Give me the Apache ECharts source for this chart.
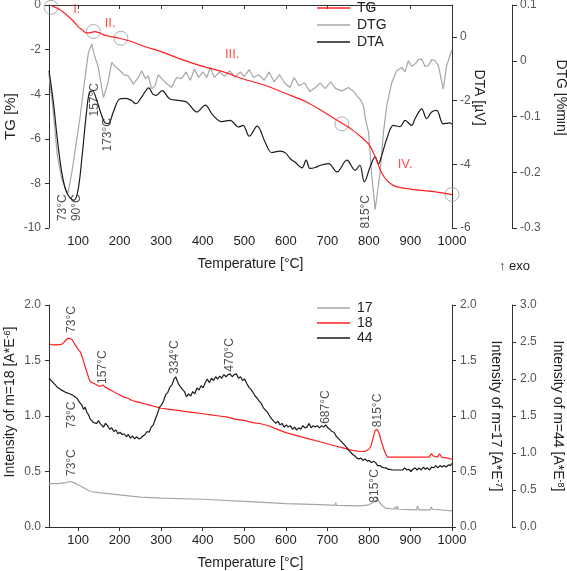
<!DOCTYPE html>
<html><head><meta charset="utf-8">
<script src="https://cdn.jsdelivr.net/npm/echarts@6/dist/echarts.min.js"></script>
<style>html,body{margin:0;padding:0;background:#fff}#c{width:567px;height:571px}</style>
</head><body><div id="c"></div>
<script>
const tempTicks = [100,200,300,400,500,600,700,800,900,1000];

const tgData = [[35,-0.02],[50,-0.15],[70,-0.4],[90,-0.75],[100,-0.97],[110,-1.12],[120,-1.25],[130,-1.24],[140,-1.19],[150,-1.24],[160,-1.33],[180,-1.42],[200,-1.49],[230,-1.65],[260,-1.86],[300,-2.09],[350,-2.45],[400,-2.75],[450,-3.0],[500,-3.33],[550,-3.6],[600,-3.97],[650,-4.35],[700,-4.9],[735,-5.3],[760,-5.6],[780,-5.9],[800,-6.25],[815,-6.8],[830,-7.5],[845,-7.9],[860,-8.1],[880,-8.2],[920,-8.3],[960,-8.38],[1000,-8.5]];

const dtaData = [[30,-1.06],[40,-2.0],[50,-3.2],[60,-4.2],[70,-4.8],[80,-5.05],[90,-5.13],[100,-4.8],[110,-3.7],[120,-2.4],[128,-1.72],[135,-1.7],[145,-2.0],[155,-2.4],[165,-2.7],[173,-2.72],[185,-2.35],[200,-1.95],[215,-1.93],[229,-2.0],[239,-2.1],[255,-1.85],[270,-1.6],[280,-1.8],[288,-1.84],[302,-1.69],[321,-1.95],[345,-2.0],[362,-2.05],[386,-2.36],[406,-2.14],[424,-2.45],[446,-2.66],[466,-2.62],[486,-2.83],[497,-2.78],[512,-3.12],[531,-2.8],[550,-3.3],[566,-3.63],[586,-3.59],[600,-3.65],[610,-3.82],[622,-3.93],[639,-4.11],[649,-3.87],[658,-4.13],[671,-4.1],[683,-4.03],[703,-3.98],[723,-4.24],[747,-3.87],[767,-4.19],[778,-4.03],[789,-4.55],[803,-4.08],[815,-3.77],[823,-3.98],[831,-3.72],[843,-3.2],[859,-2.78],[875,-2.82],[887,-2.62],[903,-2.78],[911,-2.57],[927,-2.26],[939,-2.57],[951,-2.36],[963,-2.31],[979,-2.73],[995,-2.7],[1000,-2.75]];

const dtgData = [[30,-0.024],[40,-0.09],[50,-0.17],[60,-0.21],[70,-0.23],[76,-0.237],[85,-0.2],[95,-0.15],[105,-0.1],[115,-0.04],[125,0.015],[133,0.03],[140,0.008],[148,-0.01],[155,-0.04],[161,-0.066],[171,-0.042],[181,-0.003],[189,-0.01],[201,-0.018],[210,-0.025],[221,-0.027],[233,-0.042],[245,-0.03],[253,-0.018],[262,-0.032],[269,-0.027],[277,-0.05],[285,-0.045],[293,-0.025],[301,-0.032],[312,-0.04],[325,-0.048],[337,-0.03],[349,-0.032],[360,-0.02],[370,-0.035],[380,-0.015],[390,-0.03],[400,-0.02],[410,-0.03],[418,-0.012],[428,-0.03],[440,-0.02],[452,-0.028],[465,-0.018],[478,-0.03],[490,-0.02],[500,-0.028],[512,-0.016],[522,-0.03],[535,-0.025],[548,-0.035],[560,-0.02],[572,-0.038],[585,-0.025],[597,-0.04],[610,-0.048],[620,-0.03],[632,-0.045],[645,-0.04],[658,-0.055],[671,-0.048],[683,-0.04],[695,-0.05],[708,-0.038],[720,-0.05],[735,-0.054],[751,-0.048],[763,-0.055],[771,-0.063],[780,-0.07],[787,-0.081],[791,-0.102],[799,-0.128],[807,-0.207],[815,-0.267],[819,-0.265],[827,-0.2],[835,-0.128],[843,-0.081],[855,-0.039],[867,-0.018],[879,-0.012],[887,-0.02],[895,0],[903,-0.01],[911,-0.006],[919,0.002],[927,0.003],[935,-0.01],[943,-0.009],[951,0.002],[959,0],[967,-0.008],[979,-0.051],[987,-0.009],[995,0.009],[1000,0.02]];

const tgCircles = [[35,-0.1],[137,-1.19],[203,-1.49],[735,-5.33],[1000,-8.5]];
const phaseLabels = [['I.',97,-0.22],['II.',177,-0.82],['III.',471,-2.21],['IV.',887,-7.17]];
const topTempLabels = [['73°C',63.7,-9.09],['90°C',97,-9.09],['157°C',141,-4.25],['173°C',172,-5.82],['815°C',793,-9.27]];

const m17Data = [[30,0.39],[50,0.39],[70,0.40],[80,0.41],[90,0.40],[100,0.38],[110,0.36],[120,0.34],[130,0.32],[150,0.31],[200,0.29],[250,0.27],[300,0.26],[400,0.25],[500,0.23],[600,0.21],[700,0.2],[718,0.195],[720,0.22],[722,0.195],[780,0.19],[800,0.2],[810,0.22],[818,0.24],[820,0.27],[823,0.24],[830,0.2],[840,0.17],[860,0.16],[862,0.18],[866,0.16],[868,0.19],[870,0.16],[915,0.155],[917,0.19],[920,0.155],[948,0.155],[950,0.18],[953,0.16],[1000,0.145]];

const m18Data = [[30,1.65],[40,1.64],[50,1.64],[60,1.645],[65,1.66],[70,1.68],[75,1.7],[80,1.7],[85,1.69],[90,1.66],[95,1.63],[100,1.6],[105,1.58],[110,1.53],[115,1.47],[120,1.41],[125,1.35],[129,1.31],[135,1.3],[140,1.29],[145,1.28],[150,1.27],[155,1.27],[160,1.28],[165,1.26],[170,1.25],[175,1.24],[180,1.23],[190,1.21],[200,1.19],[210,1.17],[220,1.16],[230,1.14],[240,1.13],[250,1.12],[260,1.11],[270,1.1],[280,1.09],[290,1.08],[300,1.07],[320,1.06],[340,1.05],[360,1.04],[380,1.03],[400,1.02],[420,1.01],[440,1.0],[460,0.99],[480,0.97],[500,0.96],[520,0.94],[540,0.93],[560,0.91],[580,0.88],[600,0.85],[620,0.83],[640,0.81],[660,0.79],[680,0.77],[700,0.75],[720,0.73],[740,0.71],[760,0.69],[780,0.68],[790,0.68],[800,0.7],[805,0.73],[810,0.8],[815,0.87],[820,0.88],[825,0.84],[830,0.77],[835,0.71],[840,0.66],[845,0.63],[850,0.63],[900,0.63],[945,0.63],[950,0.66],[955,0.64],[965,0.63],[970,0.66],[975,0.63],[990,0.62],[1000,0.61]];

const m44Data = [[30,2.01],[40,1.95],[50,1.89],[60,1.85],[70,1.82],[80,1.8],[90,1.77],[97,1.74],[104,1.68],[109,1.65],[113,1.59],[117,1.62],[121,1.55],[125,1.52],[129,1.46],[133,1.47],[137,1.41],[141,1.43],[145,1.4],[149,1.44],[153,1.4],[157,1.38],[161,1.35],[166,1.4],[171,1.37],[176,1.32],[181,1.34],[186,1.29],[191,1.31],[196,1.26],[201,1.28],[206,1.25],[211,1.26],[216,1.22],[221,1.25],[226,1.2],[231,1.23],[236,1.19],[241,1.22],[246,1.19],[251,1.2],[256,1.23],[261,1.25],[266,1.29],[271,1.28],[276,1.35],[281,1.38],[286,1.46],[291,1.53],[296,1.62],[301,1.65],[306,1.71],[311,1.79],[316,1.82],[321,1.89],[326,1.92],[331,2.0],[335,2.03],[339,1.97],[343,1.92],[347,1.94],[351,1.86],[356,1.83],[361,1.76],[366,1.8],[371,1.77],[376,1.83],[381,1.8],[386,1.88],[391,1.85],[396,1.91],[401,1.88],[406,1.95],[411,2.0],[416,1.95],[421,2.01],[426,1.98],[431,2.03],[436,2.0],[441,2.04],[446,2.01],[451,2.06],[456,2.03],[461,2.06],[466,2.07],[471,2.03],[476,2.06],[481,2.07],[486,2.01],[491,2.03],[496,1.98],[501,2.0],[506,1.94],[511,1.89],[516,1.86],[521,1.82],[526,1.77],[531,1.74],[536,1.7],[541,1.67],[546,1.61],[551,1.58],[556,1.55],[561,1.5],[566,1.46],[571,1.43],[576,1.4],[581,1.43],[586,1.38],[591,1.4],[596,1.35],[601,1.38],[606,1.35],[611,1.37],[616,1.32],[621,1.35],[626,1.31],[631,1.34],[636,1.32],[641,1.37],[646,1.34],[651,1.35],[656,1.4],[661,1.34],[666,1.37],[671,1.35],[676,1.37],[681,1.34],[686,1.37],[691,1.35],[696,1.38],[701,1.34],[706,1.32],[711,1.29],[716,1.28],[721,1.23],[726,1.2],[731,1.17],[736,1.14],[741,1.11],[746,1.08],[751,1.04],[756,1.01],[761,0.98],[766,0.96],[771,0.93],[776,0.92],[781,0.93],[786,0.9],[791,0.92],[796,0.89],[801,0.9],[806,0.87],[811,0.89],[816,0.87],[821,0.83],[826,0.83],[831,0.81],[836,0.8],[841,0.8],[846,0.78],[851,0.78],[856,0.77],[861,0.77],[871,0.77],[881,0.77],[886,0.8],[891,0.77],[896,0.78],[901,0.75],[906,0.78],[911,0.8],[916,0.77],[921,0.8],[926,0.77],[931,0.81],[936,0.78],[941,0.8],[946,0.77],[951,0.81],[956,0.8],[961,0.83],[966,0.8],[971,0.83],[976,0.81],[981,0.83],[986,0.81],[991,0.84],[996,0.83],[1000,0.86]];

const bottomTempLabels = [['73°C',85,1.87],['157°C',160,1.44],['73°C',85,1.01],['334°C',333,1.53],['470°C',466,1.55],['73°C',85,0.58],['687°C',695,1.08],['815°C',820,1.05],['815°C',815,0.37]];

const FONT = 'Liberation Sans, Arial, sans-serif';
const TXT = '#222';
const RED = '#ff2020', GRAY = '#a6a6a6', BLACK = '#1a1a1a';
const RICH = {sup:{fontSize:9, verticalAlign:'top', color:TXT, fontFamily:FONT, padding:[0,0,6,0]}, t:{fontSize:14, color:TXT, fontFamily:FONT}};
function nts(extra){ return Object.assign({fontSize:14, color:TXT, fontFamily:FONT, rich:RICH}, extra || {}); }

function xAx(grid){
  return {gridIndex:grid, type:'value', min:30, max:1000,
    axisLine:{show:true, lineStyle:{color:'#333'}},
    axisTick:{show:true, length:4, customValues:tempTicks, lineStyle:{color:'#333'}},
    axisLabel:{customValues:tempTicks, formatter:v=>String(v), fontSize:13, color:TXT, fontFamily:FONT, margin:7},
    splitLine:{show:false},
    name:'Temperature [°C]', nameLocation:'middle', nameGap:29, nameMoveOverlap:false,
    nameTextStyle:nts()};
}
function yAx(o){
  const base = {type:'value', axisLine:{show:true, lineStyle:{color:'#333'}},
    axisTick:{show:true, length:4, lineStyle:{color:'#333'}},
    axisLabel:{fontSize:13, color:TXT, fontFamily:FONT, margin:7},
    splitLine:{show:false}, nameLocation:'middle', nameMoveOverlap:false,
    nameTextStyle:nts()};
  const r = Object.assign(base, o);
  if (o.axisLabel) r.axisLabel = Object.assign({}, base.axisLabel, o.axisLabel);
  if (o.axisTick) r.axisTick = Object.assign({}, base.axisTick, o.axisTick);
  return r;
}
const f1 = v => v.toFixed(1);
const fDtg = v => Math.abs(v) < 1e-9 ? '0' : String(+v.toFixed(1));
const fInt = v => String(Math.round(v));

function labelSeries(items, xi, yi, color, rot, size){
  return {type:'scatter', xAxisIndex:xi, yAxisIndex:yi, symbolSize:0, silent:true, z:10,
    data: items.map(d => ({name:d[0], value:[d[1], d[2]]})),
    label:{show:true, position:'inside', formatter:p=>p.name, rotate:rot, color:color, fontSize:size, fontFamily:FONT}};
}
const legendBase = {orient:'vertical', left:312, icon:'rect', itemWidth:33, itemHeight:1.5, itemGap:3,
  textStyle:{fontSize:14, color:TXT, fontFamily:FONT, padding:[0,0,0,2]}};

const chart = echarts.init(document.getElementById('c'));
chart.setOption({
  animation:false,
  backgroundColor:'#fff',
  textStyle:{fontFamily:FONT},
  grid:[{left:49, right:115, top:5, height:223, containLabel:false, outerBoundsMode:'none'},
        {left:49, right:115, top:305, height:222, containLabel:false, outerBoundsMode:'none'}],
  xAxis:[xAx(0), xAx(1)],
  yAxis:[
    yAx({gridIndex:0, position:'left', min:-10, max:0, interval:2, axisLabel:{formatter:fInt},
      name:'TG [%]', nameGap:31, nameTextStyle:nts({fontSize:15})}),
    yAx({gridIndex:0, position:'right', min:-6, max:1,
      axisLabel:{customValues:[-6,-4,-2,0], formatter:fInt}, axisTick:{customValues:[-6,-4,-2,0]},
      name:'DTA [µV]', nameGap:20, nameRotate:-90, nameTextStyle:nts({padding:[0,38,0,0]})}),
    yAx({gridIndex:0, position:'right', offset:60, min:-0.3, max:0.1,
      axisLabel:{customValues:[-0.3,-0.2,-0.1,0,0.1], formatter:fDtg}, axisTick:{customValues:[-0.3,-0.2,-0.1,0,0.1]},
      name:'DTG [%min]', nameGap:42, nameRotate:-90, nameTextStyle:nts({padding:[0,38,0,0]})}),
    yAx({gridIndex:1, position:'left', min:0, max:2, interval:0.5, axisLabel:{formatter:f1},
      name:'{t|Intensity of m=18 [A*E}{sup|-6}{t|]}', nameGap:31, nameTextStyle:nts({padding:[0,0,0,28]})}),
    yAx({gridIndex:1, position:'right', min:0, max:2, interval:0.5, axisLabel:{formatter:f1},
      name:'{t|Intensity of m=17 [A*E}{sup|-7}{t|]}', nameGap:36, nameRotate:-90}),
    yAx({gridIndex:1, position:'right', offset:60, min:0, max:3, interval:0.5, axisLabel:{formatter:f1},
      name:'{t|Intensity of m=44 [A*E}{sup|-8}{t|]}', nameGap:38, nameRotate:-90})
  ],
  legend:[
    Object.assign({data:['TG','DTG','DTA'], top:-4}, legendBase),
    Object.assign({}, legendBase, {data:['17','18','44'], top:296, itemGap:1})
  ],
  series:[
    {name:'DTG', type:'line', xAxisIndex:0, yAxisIndex:2, data:dtgData, symbol:'none', lineStyle:{color:GRAY, width:1.2}, itemStyle:{color:GRAY}},
    {name:'DTA', type:'line', xAxisIndex:0, yAxisIndex:1, data:dtaData, symbol:'none', smooth:0.35, lineStyle:{color:BLACK, width:1.2}, itemStyle:{color:BLACK}},
    {name:'TG', type:'line', xAxisIndex:0, yAxisIndex:0, data:tgData, symbol:'none', smooth:0.3, lineStyle:{color:RED, width:1.2}, itemStyle:{color:RED}},
    {type:'scatter', xAxisIndex:0, yAxisIndex:0, data:tgCircles, symbol:'circle', symbolSize:14, silent:true,
      itemStyle:{color:'rgba(0,0,0,0)', borderColor:'#999', borderWidth:1}},
    labelSeries(phaseLabels, 0, 0, RED, 0, 13),
    labelSeries(topTempLabels, 0, 0, TXT, 90, 12),
    {name:'17', type:'line', xAxisIndex:1, yAxisIndex:4, data:m17Data, symbol:'none', lineStyle:{color:GRAY, width:1.2}, itemStyle:{color:GRAY}},
    {name:'18', type:'line', xAxisIndex:1, yAxisIndex:3, data:m18Data, symbol:'none', lineStyle:{color:RED, width:1.2}, itemStyle:{color:RED}},
    {name:'44', type:'line', xAxisIndex:1, yAxisIndex:5, data:m44Data, symbol:'none', lineStyle:{color:BLACK, width:1.2}, itemStyle:{color:BLACK}},
    labelSeries(bottomTempLabels, 1, 3, TXT, 90, 12)
  ],
  graphic:[{type:'text', left:499, top:260, style:{text:'↑ exo', fontSize:13, fill:TXT, fontFamily:FONT}}]
});
</script></body></html>
